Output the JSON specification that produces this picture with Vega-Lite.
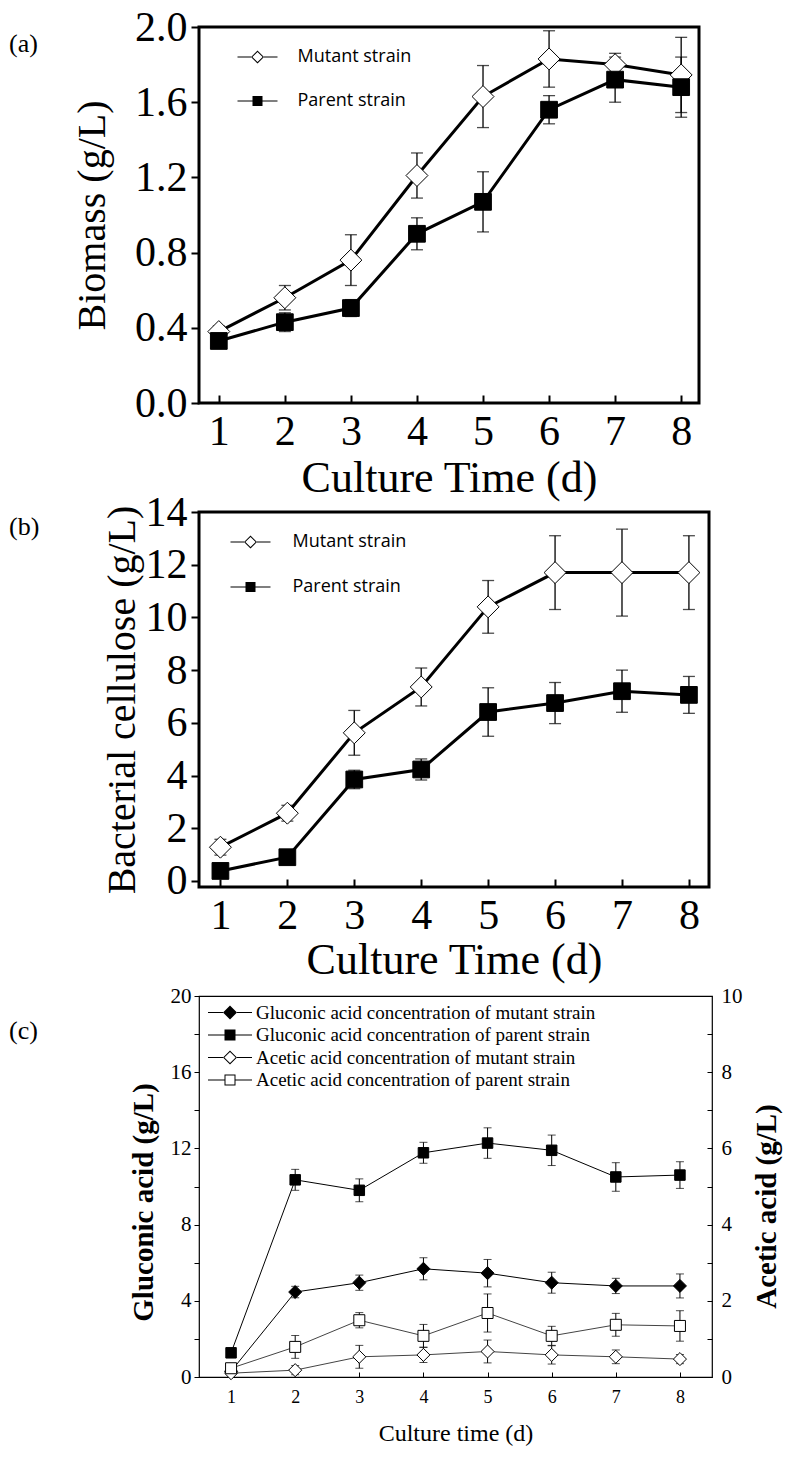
{
  "$schema": "https://vega.github.io/schema/vega-lite/v6.json",
  "background": "white",
  "padding": {"left": 7, "top": 4, "right": 5, "bottom": 5},
  "spacing": 109,
  "bounds": "flush",
  "resolve": {"scale": {"shape": "independent", "fill": "independent", "size": "independent"}, "legend": {"shape": "independent", "fill": "independent", "size": "independent"}},
  "config": {
    "view": {"stroke": "black", "strokeWidth": 3},
    "axis": {"labelFont": "Liberation Serif", "titleFont": "Liberation Serif", "labelColor": "black", "titleColor": "black", "tickColor": "black", "grid": false, "domain": false, "titleFontWeight": "normal", "labelFlush": false, "labelOverlap": false, "tickWidth": 2},
    "legend": {"symbolSize": 100, "symbolFillColor": "black", "symbolStrokeColor": "black", "symbolStrokeWidth": 0, "symbolOpacity": 1, "padding": 0, "title": null, "labelColor": "black", "labelLimit": 500},
    "title": {"font": "Liberation Serif", "color": "black", "fontWeight": "normal"}
  },
  "datasets": {
    "a": [
      {"day": 1, "strain": "Mutant strain", "v": 0.38, "e": 0.03},
      {"day": 2, "strain": "Mutant strain", "v": 0.56, "e": 0.065},
      {"day": 3, "strain": "Mutant strain", "v": 0.76, "e": 0.135},
      {"day": 4, "strain": "Mutant strain", "v": 1.21, "e": 0.12},
      {"day": 5, "strain": "Mutant strain", "v": 1.63, "e": 0.165},
      {"day": 6, "strain": "Mutant strain", "v": 1.83, "e": 0.15},
      {"day": 7, "strain": "Mutant strain", "v": 1.8, "e": 0.06},
      {"day": 8, "strain": "Mutant strain", "v": 1.745, "e": 0.2},
      {"day": 1, "strain": "Parent strain", "v": 0.33, "e": 0.02},
      {"day": 2, "strain": "Parent strain", "v": 0.43, "e": 0.05},
      {"day": 3, "strain": "Parent strain", "v": 0.505, "e": 0.045},
      {"day": 4, "strain": "Parent strain", "v": 0.9, "e": 0.085},
      {"day": 5, "strain": "Parent strain", "v": 1.07, "e": 0.16},
      {"day": 6, "strain": "Parent strain", "v": 1.56, "e": 0.075},
      {"day": 7, "strain": "Parent strain", "v": 1.72, "e": 0.12},
      {"day": 8, "strain": "Parent strain", "v": 1.68, "e": 0.16}
    ],
    "b": [
      {"day": 1, "strain": "Mutant strain", "v": 1.28, "e": 0.3},
      {"day": 2, "strain": "Mutant strain", "v": 2.57, "e": 0.3},
      {"day": 3, "strain": "Mutant strain", "v": 5.62, "e": 0.85},
      {"day": 4, "strain": "Mutant strain", "v": 7.36, "e": 0.72},
      {"day": 5, "strain": "Mutant strain", "v": 10.4, "e": 1.0},
      {"day": 6, "strain": "Mutant strain", "v": 11.7, "e": 1.4},
      {"day": 7, "strain": "Mutant strain", "v": 11.7, "e": 1.65},
      {"day": 8, "strain": "Mutant strain", "v": 11.7, "e": 1.4},
      {"day": 1, "strain": "Parent strain", "v": 0.38, "e": 0.1},
      {"day": 2, "strain": "Parent strain", "v": 0.9, "e": 0.1},
      {"day": 3, "strain": "Parent strain", "v": 3.85, "e": 0.35},
      {"day": 4, "strain": "Parent strain", "v": 4.23, "e": 0.4},
      {"day": 5, "strain": "Parent strain", "v": 6.41, "e": 0.92},
      {"day": 6, "strain": "Parent strain", "v": 6.75, "e": 0.78},
      {"day": 7, "strain": "Parent strain", "v": 7.2, "e": 0.8},
      {"day": 8, "strain": "Parent strain", "v": 7.06, "e": 0.7}
    ],
    "glu": [
      {"day": 1, "series": "Gluconic acid concentration of mutant strain", "v": 0.3, "e": 0.2},
      {"day": 2, "series": "Gluconic acid concentration of mutant strain", "v": 4.46, "e": 0.3},
      {"day": 3, "series": "Gluconic acid concentration of mutant strain", "v": 4.95, "e": 0.4},
      {"day": 4, "series": "Gluconic acid concentration of mutant strain", "v": 5.68, "e": 0.58},
      {"day": 5, "series": "Gluconic acid concentration of mutant strain", "v": 5.45, "e": 0.72},
      {"day": 6, "series": "Gluconic acid concentration of mutant strain", "v": 4.95, "e": 0.55},
      {"day": 7, "series": "Gluconic acid concentration of mutant strain", "v": 4.78, "e": 0.4},
      {"day": 8, "series": "Gluconic acid concentration of mutant strain", "v": 4.78, "e": 0.63},
      {"day": 1, "series": "Gluconic acid concentration of parent strain", "v": 1.27, "e": 0.1},
      {"day": 2, "series": "Gluconic acid concentration of parent strain", "v": 10.35, "e": 0.55},
      {"day": 3, "series": "Gluconic acid concentration of parent strain", "v": 9.8, "e": 0.6},
      {"day": 4, "series": "Gluconic acid concentration of parent strain", "v": 11.77, "e": 0.55},
      {"day": 5, "series": "Gluconic acid concentration of parent strain", "v": 12.28, "e": 0.8},
      {"day": 6, "series": "Gluconic acid concentration of parent strain", "v": 11.9, "e": 0.8},
      {"day": 7, "series": "Gluconic acid concentration of parent strain", "v": 10.5, "e": 0.75},
      {"day": 8, "series": "Gluconic acid concentration of parent strain", "v": 10.6, "e": 0.7}
    ],
    "ace": [
      {"day": 1, "series": "Acetic acid concentration of mutant strain", "v": 0.1, "e": 0.1},
      {"day": 2, "series": "Acetic acid concentration of mutant strain", "v": 0.18, "e": 0.12},
      {"day": 3, "series": "Acetic acid concentration of mutant strain", "v": 0.53, "e": 0.3},
      {"day": 4, "series": "Acetic acid concentration of mutant strain", "v": 0.58, "e": 0.2},
      {"day": 5, "series": "Acetic acid concentration of mutant strain", "v": 0.67, "e": 0.3},
      {"day": 6, "series": "Acetic acid concentration of mutant strain", "v": 0.58, "e": 0.24},
      {"day": 7, "series": "Acetic acid concentration of mutant strain", "v": 0.53, "e": 0.18},
      {"day": 8, "series": "Acetic acid concentration of mutant strain", "v": 0.47, "e": 0.12},
      {"day": 1, "series": "Acetic acid concentration of parent strain", "v": 0.23, "e": 0.12},
      {"day": 2, "series": "Acetic acid concentration of parent strain", "v": 0.79, "e": 0.3},
      {"day": 3, "series": "Acetic acid concentration of parent strain", "v": 1.49, "e": 0.2},
      {"day": 4, "series": "Acetic acid concentration of parent strain", "v": 1.08, "e": 0.3},
      {"day": 5, "series": "Acetic acid concentration of parent strain", "v": 1.68, "e": 0.5},
      {"day": 6, "series": "Acetic acid concentration of parent strain", "v": 1.08, "e": 0.25},
      {"day": 7, "series": "Acetic acid concentration of parent strain", "v": 1.37, "e": 0.3},
      {"day": 8, "series": "Acetic acid concentration of parent strain", "v": 1.34, "e": 0.4}
    ]
  },
  "vconcat": [
    {
      "width": 500,
      "height": 376,
      "title": {"text": "(a)", "anchor": "start", "frame": "group", "orient": "top", "dx": -190, "dy": 64, "baseline": "middle", "fontSize": 26, "offset": 0},
      "data": {"name": "a"},
      "encoding": {
        "x": {"field": "day", "type": "quantitative", "scale": {"domain": [0.7, 8.27], "nice": false, "zero": false},
              "axis": {"values": [1, 2, 3, 4, 5, 6, 7, 8], "title": "Culture Time (d)", "labelFontSize": 42, "titleFontSize": 44, "tickSize": -8, "labelPadding": 16, "titlePadding": 4}},
        "y": {"field": "v", "type": "quantitative", "scale": {"domain": [0, 2], "nice": false, "zero": false},
              "axis": {"values": [0, 0.4, 0.8, 1.2, 1.6, 2.0], "format": ".1f", "title": "Biomass (g/L)", "labelFontSize": 42, "titleFontSize": 40, "tickSize": 8, "labelPadding": 4, "titlePadding": 22}}
      },
      "layer": [
        {"mark": {"type": "errorbar", "ticks": {"size": 12, "thickness": 1.3, "color": "black"}, "rule": {"strokeWidth": 1.3, "color": "black"}},
         "encoding": {"yError": {"field": "e"}}},
        {"mark": {"type": "line", "color": "black", "strokeWidth": 3},
         "encoding": {"detail": {"field": "strain", "type": "nominal"}}},
        {"mark": {"type": "point", "filled": true, "stroke": "black", "strokeWidth": 1, "opacity": 1},
         "encoding": {
           "shape": {"field": "strain", "type": "nominal", "scale": {"domain": ["Mutant strain", "Parent strain"], "range": ["diamond", "square"]}, "legend": null},
           "fill": {"field": "strain", "type": "nominal", "scale": {"domain": ["Mutant strain", "Parent strain"], "range": ["white", "black"]}, "legend": null},
           "size": {"field": "strain", "type": "nominal", "scale": {"domain": ["Mutant strain", "Parent strain"], "range": [480, 280]}, "legend": null}
         }},
        {"mark": {"type": "point", "filled": true, "opacity": 0, "color": "black", "fill": "black", "strokeWidth": 0},
         "encoding": {
           "shape": {"field": "strain", "type": "nominal",
                     "scale": {"domain": ["Mutant strain", "Parent strain"],
                               "range": ["M0,-1.3L1.3,0L0,1.3L-1.3,0ZM0,-1.02L-1.02,0L0,1.02L1.02,0ZM-4,-0.1H-1.3V0.1H-4ZM1.3,-0.1H4V0.1H1.3Z",
                                         "M-1,-1H1V1H-1ZM-4,-0.1H-1V0.1H-4ZM1,-0.1H4V0.1H1Z"]},
                     "legend": {"orient": "none", "legendX": 49.5, "legendY": 21, "labelFont": "Open Sans", "labelFontSize": 18, "labelOffset": 31, "rowPadding": 26}}
         }}
      ],
      "resolve": {"scale": {"shape": "independent", "fill": "independent", "size": "independent"}, "legend": {"shape": "independent", "fill": "independent", "size": "independent"}}
    },
    {
      "width": 510,
      "height": 375,
      "title": {"text": "(b)", "anchor": "start", "frame": "group", "orient": "top", "dx": -190, "dy": 62, "baseline": "middle", "fontSize": 26, "offset": 0},
      "data": {"name": "b"},
      "encoding": {
        "x": {"field": "day", "type": "quantitative", "scale": {"domain": [0.68, 8.3], "nice": false, "zero": false},
              "axis": {"values": [1, 2, 3, 4, 5, 6, 7, 8], "title": "Culture Time (d)", "labelFontSize": 42, "titleFontSize": 44, "tickSize": -8, "labelPadding": 16, "titlePadding": 2}},
        "y": {"field": "v", "type": "quantitative", "scale": {"domain": [-0.23, 14], "nice": false, "zero": false},
              "axis": {"values": [0, 2, 4, 6, 8, 10, 12, 14], "title": "Bacterial cellulose (g/L)", "labelFontSize": 42, "titleFontSize": 40, "tickSize": 8, "labelPadding": 4, "titlePadding": 3}}
      },
      "layer": [
        {"mark": {"type": "errorbar", "ticks": {"size": 12, "thickness": 1.3, "color": "black"}, "rule": {"strokeWidth": 1.3, "color": "black"}},
         "encoding": {"yError": {"field": "e"}}},
        {"mark": {"type": "line", "color": "black", "strokeWidth": 3},
         "encoding": {"detail": {"field": "strain", "type": "nominal"}}},
        {"mark": {"type": "point", "filled": true, "stroke": "black", "strokeWidth": 1, "opacity": 1},
         "encoding": {
           "shape": {"field": "strain", "type": "nominal", "scale": {"domain": ["Mutant strain", "Parent strain"], "range": ["diamond", "square"]}, "legend": null},
           "fill": {"field": "strain", "type": "nominal", "scale": {"domain": ["Mutant strain", "Parent strain"], "range": ["white", "black"]}, "legend": null},
           "size": {"field": "strain", "type": "nominal", "scale": {"domain": ["Mutant strain", "Parent strain"], "range": [480, 280]}, "legend": null}
         }},
        {"mark": {"type": "point", "filled": true, "opacity": 0, "color": "black", "fill": "black", "strokeWidth": 0},
         "encoding": {
           "shape": {"field": "strain", "type": "nominal",
                     "scale": {"domain": ["Mutant strain", "Parent strain"],
                               "range": ["M0,-1.3L1.3,0L0,1.3L-1.3,0ZM0,-1.02L-1.02,0L0,1.02L1.02,0ZM-4,-0.1H-1.3V0.1H-4ZM1.3,-0.1H4V0.1H1.3Z",
                                         "M-1,-1H1V1H-1ZM-4,-0.1H-1V0.1H-4ZM1,-0.1H4V0.1H1Z"]},
                     "legend": {"orient": "none", "legendX": 42.5, "legendY": 21, "labelFont": "Open Sans", "labelFontSize": 18, "labelOffset": 33, "rowPadding": 27}}
         }}
      ],
      "resolve": {"scale": {"shape": "independent", "fill": "independent", "size": "independent"}, "legend": {"shape": "independent", "fill": "independent", "size": "independent"}}
    },
    {
      "width": 513,
      "height": 381,
      "view": {"stroke": "black", "strokeWidth": 1.2},
      "title": {"text": "(c)", "anchor": "start", "frame": "group", "orient": "top", "dx": -190, "dy": 72, "baseline": "middle", "fontSize": 26, "offset": 0},
      "encoding": {
        "x": {"field": "day", "type": "quantitative", "scale": {"domain": [0.5, 8.5], "nice": false, "zero": false},
              "axis": {"values": [1, 1.5, 2, 2.5, 3, 3.5, 4, 4.5, 5, 5.5, 6, 6.5, 7, 7.5, 8], "format": "d", "labelExpr": "datum.value % 1 === 0 ? datum.label : ''", "title": "Culture time (d)", "labelFontSize": 18, "titleFontSize": 24, "tickSize": -5, "tickWidth": 1, "labelPadding": 16, "titlePadding": 15}}
      },
      "layer": [
        {
          "data": {"name": "glu"},
          "encoding": {
            "y": {"field": "v", "type": "quantitative", "scale": {"domain": [0, 20], "nice": false, "zero": false},
                  "axis": {"orient": "left", "values": [0, 2, 4, 6, 8, 10, 12, 14, 16, 18, 20], "labelExpr": "datum.value % 4 === 0 ? datum.label : ''", "title": "Gluconic acid (g/L)", "titleFontWeight": "bold", "labelFontSize": 21, "titleFontSize": 29, "titleY": 206, "tickSize": 5, "tickWidth": 1, "labelPadding": 3, "titlePadding": 12}}
          },
          "layer": [
            {"mark": {"type": "errorbar", "ticks": {"size": 8, "thickness": 1, "color": "black"}, "rule": {"strokeWidth": 1, "color": "black"}},
             "encoding": {"yError": {"field": "e"}}},
            {"mark": {"type": "line", "color": "black", "strokeWidth": 1},
             "encoding": {"detail": {"field": "series", "type": "nominal"}}},
            {"mark": {"type": "point", "filled": true, "stroke": "black", "strokeWidth": 1, "opacity": 1},
             "encoding": {
               "shape": {"field": "series", "type": "nominal", "scale": {"domain": ["Gluconic acid concentration of mutant strain", "Gluconic acid concentration of parent strain"], "range": ["diamond", "square"]}, "legend": null},
               "fill": {"field": "series", "type": "nominal", "scale": {"domain": ["Gluconic acid concentration of mutant strain", "Gluconic acid concentration of parent strain"], "range": ["black", "black"]}, "legend": null},
               "size": {"field": "series", "type": "nominal", "scale": {"domain": ["Gluconic acid concentration of mutant strain", "Gluconic acid concentration of parent strain"], "range": [170, 110]}, "legend": null}
             }}
          ]
        },
        {
          "data": {"name": "ace"},
          "encoding": {
            "y": {"field": "v", "type": "quantitative", "scale": {"domain": [0, 10], "nice": false, "zero": false},
                  "axis": {"orient": "right", "values": [0, 1, 2, 3, 4, 5, 6, 7, 8, 9, 10], "labelExpr": "datum.value % 2 === 0 ? datum.label : ''", "title": "Acetic acid (g/L)", "titleFontWeight": "bold", "labelFontSize": 21, "titleFontSize": 29, "titleAngle": -90, "titleBaseline": "top", "titleY": 210, "tickSize": -5, "tickWidth": 1, "labelPadding": 14, "titlePadding": 10}}
          },
          "layer": [
            {"mark": {"type": "errorbar", "ticks": {"size": 8, "thickness": 1, "color": "black"}, "rule": {"strokeWidth": 1, "color": "black"}},
             "encoding": {"yError": {"field": "e"}}},
            {"mark": {"type": "line", "color": "#444444", "strokeWidth": 1},
             "encoding": {"detail": {"field": "series", "type": "nominal"}}},
            {"mark": {"type": "point", "filled": true, "stroke": "black", "strokeWidth": 1, "opacity": 1},
             "encoding": {
               "shape": {"field": "series", "type": "nominal", "scale": {"domain": ["Acetic acid concentration of mutant strain", "Acetic acid concentration of parent strain"], "range": ["diamond", "square"]}, "legend": null},
               "fill": {"field": "series", "type": "nominal", "scale": {"domain": ["Acetic acid concentration of mutant strain", "Acetic acid concentration of parent strain"], "range": ["white", "white"]}, "legend": null},
               "size": {"field": "series", "type": "nominal", "scale": {"domain": ["Acetic acid concentration of mutant strain", "Acetic acid concentration of parent strain"], "range": [170, 121]}, "legend": null}
             }}
          ]
        },
        {
          "data": {"name": "glu"},
          "mark": {"type": "point", "filled": true, "opacity": 0, "color": "black", "fill": "black", "strokeWidth": 0},
          "encoding": {
            "y": {"field": "v", "type": "quantitative", "axis": null},
            "shape": {"field": "series", "type": "nominal",
                      "scale": {"domain": ["Gluconic acid concentration of mutant strain", "Gluconic acid concentration of parent strain", "Acetic acid concentration of mutant strain", "Acetic acid concentration of parent strain"],
                                "range": ["M0,-1.4L1.4,0L0,1.4L-1.4,0ZM-4.4,-0.1H-1.4V0.1H-4.4ZM1.4,-0.1H4.4V0.1H1.4Z",
                                          "M-1.1,-1.1H1.1V1.1H-1.1ZM-4.4,-0.1H-1.1V0.1H-4.4ZM1.1,-0.1H4.4V0.1H1.1Z",
                                          "M0,-1.4L1.4,0L0,1.4L-1.4,0ZM0,-1.12L-1.12,0L0,1.12L1.12,0ZM-4.4,-0.1H-1.4V0.1H-4.4ZM1.4,-0.1H4.4V0.1H1.4Z",
                                          "M-1.1,-1.1H1.1V1.1H-1.1ZM-0.9,-0.9V0.9H0.9V-0.9ZM-4.4,-0.1H-1.1V0.1H-4.4ZM1.1,-0.1H4.4V0.1H1.1Z"]},
                      "legend": {"orient": "none", "legendX": 21.5, "legendY": 7, "labelFont": "Liberation Serif", "labelFontSize": 19, "labelOffset": 16.5, "rowPadding": 2.5}}
          }
        }
      ],
      "resolve": {"scale": {"y": "independent", "shape": "independent", "fill": "independent", "size": "independent"}, "legend": {"shape": "independent", "fill": "independent", "size": "independent"}}
    }
  ]
}
